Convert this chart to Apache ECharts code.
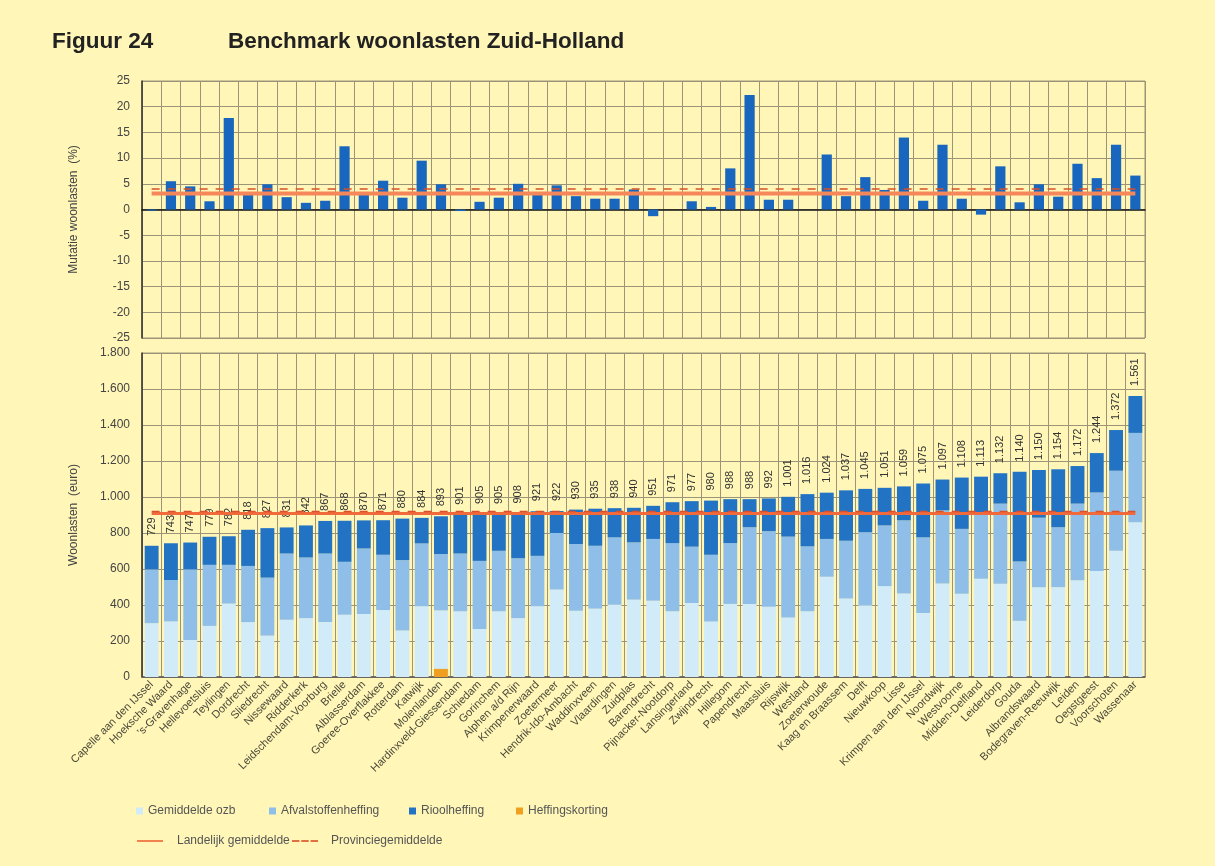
<!DOCTYPE html>
<html>
<head>
<meta charset="utf-8" />
<title>Benchmark woonlasten Zuid-Holland</title>
<script src="https://cdn.jsdelivr.net/npm/echarts@6/dist/echarts.min.js"></script>
<style>
html, body { margin: 0; padding: 0; background: #fff6b8; }
#main { width: 1215px; height: 866px; }
</style>
</head>
<body>
<div id="main"></div>
<script type="text/javascript">
/* gemeenten, van laag naar hoog */
var categories = ['Capelle aan den IJssel', 'Hoeksche Waard', "'s-Gravenhage", 'Hellevoetsluis', 'Teylingen', 'Dordrecht',
    'Sliedrecht', 'Nissewaard', 'Ridderkerk', 'Leidschendam-Voorburg', 'Brielle', 'Alblasserdam', 'Goeree-Overflakkee',
    'Rotterdam', 'Katwijk', 'Molenlanden', 'Hardinxveld-Giessendam', 'Schiedam', 'Gorinchem', 'Alphen a/d Rijn',
    'Krimpenerwaard', 'Zoetermeer', 'Hendrik-Ido-Ambacht', 'Waddinxveen', 'Vlaardingen', 'Zuidplas', 'Barendrecht',
    'Pijnacker-Nootdorp', 'Lansingerland', 'Zwijndrecht', 'Hillegom', 'Papendrecht', 'Maassluis', 'Rijswijk', 'Westland',
    'Zoeterwoude', 'Kaag en Braassem', 'Delft', 'Nieuwkoop', 'Lisse', 'Krimpen aan den IJssel', 'Noordwijk', 'Westvoorne',
    'Midden-Delfland', 'Leiderdorp', 'Gouda', 'Albrandswaard', 'Bodegraven-Reeuwijk', 'Leiden', 'Oegstgeest',
    'Voorschoten', 'Wassenaar'];

/* mutatie woonlasten (%) */
var mutatie = [-0.2, 5.5, 4.5, 1.6, 17.8, 2.9, 4.9, 2.4, 1.3, 1.7, 12.3, 3.0, 5.6, 2.3, 9.5, 4.9, -0.3, 1.5, 2.3, 5.0,
    2.9, 4.7, 2.6, 2.1, 2.1, 3.9, -1.3, 0, 1.6, 0.5, 8.0, 22.3, 1.9, 1.9, 0, 10.7, 2.6, 6.3, 3.8, 14.0, 1.7, 12.6, 2.1,
    -1.0, 8.4, 1.4, 4.9, 2.5, 8.9, 6.1, 12.6, 6.6];

/* woonlasten (euro) */
var ozb = [299, 309, 206, 284, 408, 305, 230, 318, 327, 305, 346, 350, 372, 258, 393, 370, 365, 267, 365, 327,
    393, 486, 368, 380, 402, 430, 424, 365, 411, 309, 406, 406, 390, 331, 365, 557, 436, 398, 505, 464, 355, 520, 462,
    546, 518, 312, 499, 499, 537, 589, 701, 860];
var afval = [299, 230, 392, 339, 215, 312, 322, 368, 337, 381, 294, 364, 307, 391, 349, 313, 321, 378, 336, 333,
    280, 314, 371, 349, 374, 318, 343, 379, 313, 370, 338, 426, 420, 449, 361, 210, 321, 406, 337, 406, 421, 406, 361,
    370, 445, 329, 386, 333, 426, 436, 445, 496];
var riool = [131, 204, 149, 156, 159, 201, 275, 145, 178, 181, 228, 156, 192, 231, 142, 210, 215, 260, 204, 248,
    248, 122, 191, 206, 162, 192, 184, 227, 253, 301, 244, 156, 182, 221, 290, 257, 280, 241, 209, 189, 299, 171, 285,
    197, 169, 499, 265, 322, 209, 219, 226, 205];
var korting = [null, null, null, null, null, null, null, null, null, null, null, null, null, null, null, 45, null, null,
    null, null, null, null, null, null, null, null, null, null, null, null, null, null, null, null, null, null, null, null,
    null, null, null, null, null, null, null, null, null, null, null, null, null, null];
var totaal = [729, 743, 747, 779, 782, 818, 827, 831, 842, 867, 868, 870, 871, 880, 884, 893, 901, 905, 905, 908,
    921, 922, 930, 935, 938, 940, 951, 971, 977, 980, 988, 988, 992, 1001, 1016, 1024, 1037, 1045, 1051, 1059, 1075,
    1097, 1108, 1113, 1132, 1140, 1150, 1154, 1172, 1244, 1372, 1561];

/* gemiddelden */
var landelijkMutatie = 3.1;
var provincieMutatie = 4.0;
var landelijkLasten = 908;
var provincieLasten = 920;

var font = 'Liberation Sans, Arial, sans-serif';
var gridColor = '#9c9478';

function punt(v) { /* 1561 -> 1.561 */
    if (v < 1000) return String(v);
    return Math.floor(v / 1000) + '.' + String(v % 1000).padStart(3, '0');
}
function constant(v) {
    return categories.map(function () { return v; });
}
/* een legenda-item op een vaste plek */
function legendItem(name, left, top, icon, w, h, gap) {
    return {
        left: left, top: top, itemWidth: w, itemHeight: h, padding: 0,
        textStyle: { fontSize: 12, color: '#555', fontFamily: font, padding: [0, 0, 0, gap] },
        data: [{ name: name, icon: icon }]
    };
}

var chart = echarts.init(document.getElementById('main'));

var lineIcon = 'path://M0,0h28v2h-28z';
var dashIcon = 'path://M0,0h8v2h-8z M10,0h8v2h-8z M20,0h8v2h-8z';

var option = {
    backgroundColor: '#fff6b8',
    animation: false,
    textStyle: { fontFamily: font },
    title: [
        { text: 'Figuur 24', left: 52, top: 30, padding: 0, textStyle: { fontSize: 22.5, fontWeight: 'bold', color: '#222', fontFamily: font } },
        { text: 'Benchmark woonlasten Zuid-Holland', left: 228, top: 30, padding: 0, textStyle: { fontSize: 22.5, fontWeight: 'bold', color: '#222', fontFamily: font } }
    ],
    legend: [
        legendItem('Gemiddelde ozb', 136, 805, 'rect', 7, 7, 0),
        legendItem('Afvalstoffenheffing', 269, 805, 'rect', 7, 7, 0),
        legendItem('Rioolheffing', 409, 805, 'rect', 7, 7, 0),
        legendItem('Heffingskorting', 516, 805, 'rect', 7, 7, 0),
        legendItem('Landelijk gemiddelde', 137, 835, lineIcon, 26, 2, 9),
        legendItem('Provinciegemiddelde', 292, 835, dashIcon, 26, 2, 8)
    ],
    grid: [
        { left: 142, right: 70, top: 81, height: 257, show: true, borderColor: gridColor, borderWidth: 1 },
        { left: 142, right: 70, top: 353, height: 324, show: true, borderColor: gridColor, borderWidth: 1 }
    ],
    xAxis: [
        {
            type: 'category', gridIndex: 0, data: categories,
            axisLine: { onZero: true, lineStyle: { color: '#111', width: 1.5 } },
            axisTick: { show: false, interval: 0 }, axisLabel: { show: false, interval: 0 },
            splitLine: { show: true, interval: 0, lineStyle: { color: gridColor, width: 1 } }
        },
        {
            type: 'category', gridIndex: 1, data: categories,
            axisLine: { lineStyle: { color: '#555', width: 1.5 } },
            axisTick: { show: false, interval: 0 },
            axisLabel: { interval: 0, rotate: 45, fontSize: 11, color: '#4a4838', margin: 6, fontFamily: font },
            splitLine: { show: true, interval: 0, lineStyle: { color: gridColor, width: 1 } }
        }
    ],
    yAxis: [
        {
            type: 'value', gridIndex: 0, min: -25, max: 25, interval: 5,
            name: 'Mutatie woonlasten  (%)', nameLocation: 'middle', nameGap: 62, nameRotate: 90,
            nameTextStyle: { fontSize: 12, color: '#444', fontFamily: font },
            axisLine: { show: true, lineStyle: { color: '#333', width: 1.5 } },
            axisTick: { show: false },
            axisLabel: { fontSize: 12, color: '#444', margin: 12, fontFamily: font },
            splitLine: { lineStyle: { color: gridColor, width: 1 } }
        },
        {
            type: 'value', gridIndex: 1, min: 0, max: 1800, interval: 200,
            name: 'Woonlasten  (euro)', nameLocation: 'middle', nameGap: 62, nameRotate: 90,
            nameTextStyle: { fontSize: 12, color: '#444', fontFamily: font },
            axisLine: { show: true, lineStyle: { color: '#333', width: 1.5 } },
            axisTick: { show: false },
            axisLabel: { fontSize: 12, color: '#444', margin: 12, fontFamily: font, formatter: function (v) { return punt(v); } },
            splitLine: { lineStyle: { color: gridColor, width: 1 } }
        }
    ],
    series: [
        {
            name: 'Mutatie', type: 'bar', xAxisIndex: 0, yAxisIndex: 0, data: mutatie,
            barWidth: '53%', itemStyle: { color: '#1866bd' }
        },
        {
            name: 'Landelijk gemiddelde', type: 'line', xAxisIndex: 0, yAxisIndex: 0, data: constant(landelijkMutatie),
            symbol: 'none', lineStyle: { color: '#f5875a', width: 4 }, itemStyle: { color: '#f07848' }, z: 5
        },
        {
            name: 'Provinciegemiddelde', type: 'line', xAxisIndex: 0, yAxisIndex: 0, data: constant(provincieMutatie),
            symbol: 'none', lineStyle: { color: '#d9502a', width: 1.5, type: [8, 8] }, itemStyle: { color: '#e07040' }, z: 5
        },
        {
            name: 'Gemiddelde ozb', type: 'bar', xAxisIndex: 1, yAxisIndex: 1, stack: 'lasten', data: ozb,
            barWidth: '72%', barGap: '-100%', itemStyle: { color: '#d1ebf8' }
        },
        {
            name: 'Afvalstoffenheffing', type: 'bar', xAxisIndex: 1, yAxisIndex: 1, stack: 'lasten', data: afval,
            barWidth: '72%', barGap: '-100%', itemStyle: { color: '#8fbee8' }
        },
        {
            name: 'Rioolheffing', type: 'bar', xAxisIndex: 1, yAxisIndex: 1, stack: 'lasten', data: riool,
            barWidth: '72%', barGap: '-100%', itemStyle: { color: '#2273c4' },
            label: {
                show: true, position: 'top', rotate: 90, align: 'left', verticalAlign: 'middle', distance: 10,
                fontSize: 11, color: '#333', fontFamily: font,
                formatter: function (p) { return punt(totaal[p.dataIndex]); }
            }
        },
        {
            name: 'Heffingskorting', type: 'bar', xAxisIndex: 1, yAxisIndex: 1, stack: 'korting', data: korting,
            barWidth: '72%', barGap: '-100%', itemStyle: { color: '#f0a020' }
        },
        {
            name: 'Landelijk gemiddelde', type: 'line', xAxisIndex: 1, yAxisIndex: 1, data: constant(landelijkLasten),
            symbol: 'none', lineStyle: { color: '#f06a3c', width: 3 }, itemStyle: { color: '#f07848' }, z: 5
        },
        {
            name: 'Provinciegemiddelde', type: 'line', xAxisIndex: 1, yAxisIndex: 1, data: constant(provincieLasten),
            symbol: 'none', lineStyle: { color: '#d9502a', width: 1.5, type: [8, 8] }, itemStyle: { color: '#e07040' }, z: 5
        }
    ]
};

chart.setOption(option);
window.onresize = chart.resize;
</script>
</body>
</html>
